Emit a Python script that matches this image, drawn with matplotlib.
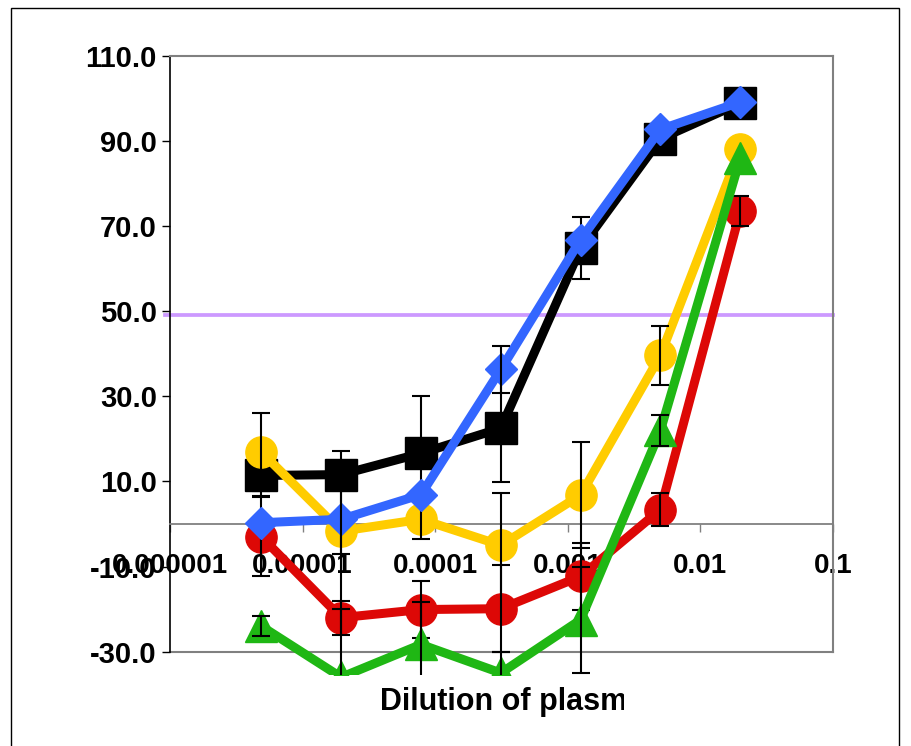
import numpy as np
import matplotlib
matplotlib.use('Agg')
import matplotlib.pyplot as plt
from matplotlib.patches import Rectangle
from matplotlib.ticker import FixedLocator, FixedFormatter, NullLocator

plt.rcParams['font.family'] = ['Liberation Sans', 'DejaVu Sans']

# dilutions (4-fold series starting at 1/50)
dilution = [1 / 204800, 1 / 51200, 1 / 12800, 1 / 3200, 1 / 800, 1 / 200, 1 / 50]

black_y = [11.4, 11.6, 16.6, 22.5, 64.8, 90.5, 98.9]
black_err = [4.9, 3.3, 13.4, 12.7, 7.2, 0, 0]
yellow_y = [16.9, -1.7, 1.1, -5.0, 6.8, 39.6, 88.2]
yellow_err = [9.1, 18.8, 4.6, 12.3, 12.5, 7.0, 0]
red_y = [-3.0, -22.0, -20.1, -19.9, -12.3, 3.4, 73.5]
red_err = [9.3, 4.0, 6.7, 10.2, 7.9, 3.9, 3.5]
green_y = [-24.0, -36.0, -28.3, -35.0, -22.5, 22.0, 85.9]
green_err = [2.3, 16.0, 10.0, 5.0, 12.5, 3.7, 0]
blue_y = [0.3, 1.1, 6.9, 36.3, 66.8, 92.7, 99.1]
blue_err = [0, 8.2, 0, 5.6, 0, 0, 0]

half_line = 49.0

xticks = [1e-6, 1e-5, 1e-4, 1e-3, 1e-2, 1e-1]
xtick_labels = ['0.000001', '0.00001', '0.0001', '0.001', '0.01', '0.1']
yticks = [-30, -10, 10, 30, 50, 70, 90, 110]

W, H = 912, 746
fig = plt.figure(figsize=(W / 100, H / 100), dpi=100)
ax = fig.add_axes([170 / W, 1 - 651.7 / H, 663 / W, 596 / H])
ax.set_xscale('log')
ax.set_xlim(1e-6, 0.1)
ax.set_ylim(-30, 110)

gray = '#808080'
for s in ['top', 'right']:
    ax.spines[s].set_color(gray)
    ax.spines[s].set_linewidth(1.5)
ax.spines['left'].set_color('black')
ax.spines['left'].set_linewidth(1.2)
ax.spines['bottom'].set_position(('data', 0))
ax.spines['bottom'].set_color(gray)
ax.spines['bottom'].set_linewidth(1.3)
ax.plot([0, 1], [0, 0], transform=ax.transAxes, color=gray, lw=1.5,
        clip_on=False, zorder=1)

ax.xaxis.set_major_locator(FixedLocator(xticks))
ax.xaxis.set_major_formatter(FixedFormatter(xtick_labels))
ax.xaxis.set_minor_locator(NullLocator())
ax.set_yticks(yticks)
ax.set_yticklabels(['%.1f' % v for v in yticks])
ax.tick_params(axis='x', direction='out', length=6, width=1, color=gray,
               pad=15, labelsize=20)
ax.tick_params(axis='y', direction='out', length=6, width=1, color='black',
               pad=3.5, labelsize=21)
for lab in ax.get_xticklabels() + ax.get_yticklabels():
    lab.set_fontweight('bold')

# data is clipped a little below the plot area
clip = Rectangle((0, -23 / 596), 1, 1 + 23 / 596 + 0.05, transform=ax.transAxes,
                 facecolor='none', edgecolor='none')
ax.add_patch(clip)

series = [
    (black_y, black_err, '#000000', 's', 23),
    (yellow_y, yellow_err, '#FFCC00', 'o', 22.5),
    (red_y, red_err, '#DD0806', 'o', 22.5),
    (green_y, green_err, '#1FB714', '^', 23.5),
    (blue_y, blue_err, '#3366FF', 'D', 16.5),
]
for i, (y, err, c, m, ms) in enumerate(series):
    ln, = ax.plot(dilution, y, color=c, lw=6.5, marker=m, ms=ms, mfc=c, mec=c,
                  mew=1, zorder=3 + i, solid_joinstyle='round')
    ln.set_clip_path(clip)
    idx = [k for k in range(len(err)) if err[k] > 0]
    eb = ax.errorbar([dilution[k] for k in idx], [y[k] for k in idx],
                     yerr=[err[k] for k in idx], fmt='none', ecolor='black',
                     elinewidth=1.5, capsize=6.8, capthick=1.5, zorder=3.5 + i)
    for art in eb.lines[1] + eb.lines[2]:
        art.set_clip_path(clip)

ax.axhline(half_line, xmin=-0.007, xmax=1, color='#CC99FF', lw=2.7,
           clip_on=False, zorder=2)

t = fig.text(380 / W, 1 - 710 / H, 'Dilution of plasm', fontsize=22,
             fontweight='bold', ha='left', va='baseline')
t.set_clip_path(Rectangle((0, 0), 624 / W, 1, transform=fig.transFigure))

border = Rectangle((11 / W, -0.05), 888 / W, 1.05 - 8 / H, transform=fig.transFigure,
                   fill=False, edgecolor='black', lw=1)
fig.add_artist(border)

fig.savefig('out.png', dpi=100)
